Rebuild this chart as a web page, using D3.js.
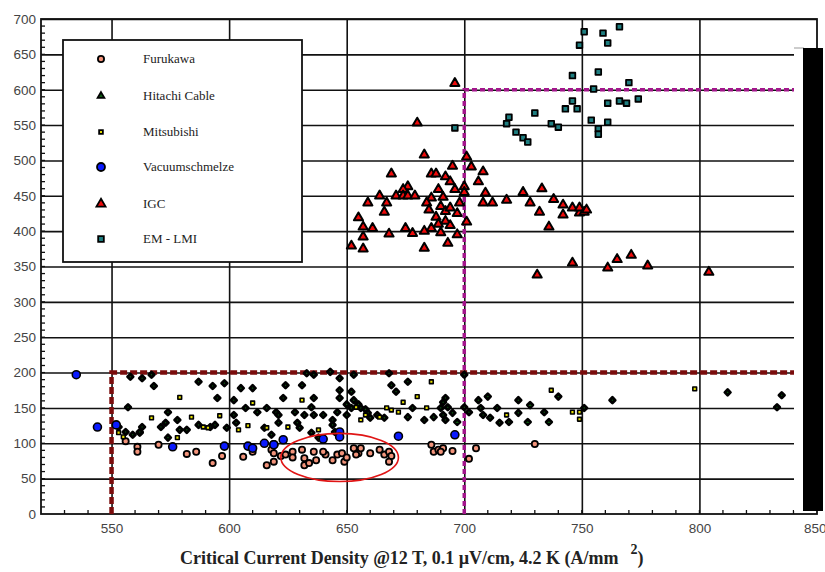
<!DOCTYPE html>
<html lang="en">
<head>
<meta charset="UTF-8">
<title>Critical Current Density</title>
<script src="https://d3js.org/d3.v7.min.js"></script>
<style>
  body { margin: 0; background: #fff; }
  svg { font-family: "Liberation Serif", "DejaVu Serif", serif; }
  .grid line { stroke: #111; stroke-width: 1.6; }
  .grid path { display: none; }
  .lbl text { fill: #444; font-size: 13.5px; }
</style>
</head>
<body>
<svg id="chart" width="825" height="572"></svg>
<script>
// tick values
const xTicks = [550, 600, 650, 700, 750, 800, 850];
const yTicks = [0, 50, 100, 150, 200, 250, 300, 350, 400, 450, 500, 550, 600, 650, 700];

// series: [Jc, value]
const furukawa = [
  [556,103],[561,95],[561,88],[570,98],[582,85],[586,88],[593,72],[597,82],[606,81],[610,88],
  [616,69],[619,74],[622,82],[618,91],[619,86],[624,84],[627,88],[631,91],[632,79],[632,69],
  [636,88],[637,76],[634,72],[641,84],[644,76],[646,84],[648,86],[649,74],[653,93],[655,86],
  [656,93],[654,84],[664,91],[666,84],[668,88],[669,82],[668,74],[686,98],[687,88],[689,91],
  [691,93],[690,88],[695,89],[702,78],[705,93],[730,99],[640,88],[650,80],[660,86],[627,80]
];
const hitachi = [
  [558,194],[563,192],[567,197],[568,181],[587,187],[593,181],[598,185],[595,164],[602,161],
  [605,178],[610,178],[607,150],[557,151],[574,144],[578,133],[573,129],[571,123],[563,123],
  [562,115],[579,119],[582,119],[587,126],[592,123],[594,126],[602,140],[603,129],[599,122],
  [612,144],[616,150],[620,144],[615,122],[574,108],[553,123],[556,116],[559,112],[562,116],
  [636,197],[643,201],[647,192],[624,182],[631,182],[623,164],[636,164],[635,151],[647,175],
  [647,164],[652,173],[653,161],[668,199],[676,187],[669,182],[671,173],[628,144],[632,140],
  [636,140],[640,140],[644,133],[646,144],[650,140],[652,150],[656,150],[659,143],[660,136],
  [663,140],[666,136],[621,140],[621,129],[618,112],[629,129],[630,122],[635,115],[638,108],
  [644,126],[645,116],[683,133],[687,137],[690,150],[691,158],[678,150],[676,137],[692,164],
  [693,151],[691,140],[692,133],[695,143],[697,130],[700,151],[702,144],[706,161],[707,150],
  [710,166],[708,140],[711,136],[714,150],[715,129],[719,130],[723,161],[723,143],[728,154],
  [727,130],[734,144],[736,130],[740,166],[751,150],[763,161],[700,197],[812,172],[835,168],
  [833,151],[633,199],[653,197],[655,155],[650,155],[658,148]
];
const mitsubishi = [
  [579,165],[596,139],[610,157],[578,108],[584,137],[589,123],[591,122],[604,119],[608,125],
  [567,136],[553,115],[555,109],[616,122],[631,161],[625,123],[638,119],[667,150],[669,147],
  [680,166],[684,150],[686,187],[664,137],[672,144],[674,158],[656,133],[658,140],[654,151],
  [737,175],[746,144],[749,144],[749,134],[718,140],[798,177]
];
const vacuum = [
  [535,197],[544,123],[552,126],[576,95],[598,96],[608,96],[610,93],[615,100],[619,98],
  [619,98],[623,105],[640,106],[647,116],[647,109],[672,110],[696,112]
];
const igc = [
  [683,508],[701,505],[695,492],[703,491],[708,484],[669,481],[686,481],[688,481],[692,477],
  [706,470],[694,470],[700,463],[676,463],[696,459],[689,459],[674,459],[709,454],[725,455],
  [733,460],[664,450],[671,450],[674,450],[676,450],[679,450],[686,447],[691,448],[659,440],
  [667,440],[708,440],[712,440],[718,444],[728,440],[738,445],[742,437],[732,427],[742,423],
  [746,433],[749,426],[749,433],[751,427],[752,430],[684,440],[685,430],[688,420],[690,435],
  [692,428],[692,414],[689,410],[694,408],[686,404],[683,400],[690,398],[694,433],[697,425],
  [698,440],[700,455],[666,427],[655,419],[657,406],[661,404],[657,392],[668,396],[675,404],
  [678,397],[652,379],[657,375],[683,376],[693,383],[697,395],[701,413],[736,406],[731,338],
  [746,355],[765,360],[771,366],[761,348],[778,351],[804,342],[696,609],[680,553]
];
const emlmi = [
  [751,682],[759,680],[766,689],[749,663],[761,666],[746,620],[757,625],[770,610],[755,601],
  [746,584],[743,573],[748,573],[761,581],[766,584],[769,581],[774,587],[730,567],[719,561],
  [718,552],[737,552],[740,547],[754,557],[761,554],[757,545],[757,537],[722,540],[725,532],
  [727,526],[696,546]
];

const series = [
  { name: "Furukawa",       data: furukawa,   shape: d3.symbolCircle,   legShape: d3.symbolCircle,   size: 30, fill: "#f2937a", sw: 1.8 },
  { name: "Hitachi Cable",  data: hitachi,    shape: d3.symbolDiamond2, legShape: d3.symbolTriangle, size: 20, fill: "#0b5a10", sw: 2.8 },
  { name: "Mitsubishi",     data: mitsubishi, shape: d3.symbolSquare,   legShape: d3.symbolSquare,   size: 14, fill: "#e6e000", sw: 1.6 },
  { name: "Vacuumschmelze", data: vacuum,     shape: d3.symbolCircle,   legShape: d3.symbolCircle,   size: 50, fill: "#0a1aff", sw: 1.6 },
  { name: "IGC",            data: igc,        shape: d3.symbolTriangle, legShape: d3.symbolTriangle, size: 36, fill: "#ee0a0a", sw: 2 },
  { name: "EM - LMI",       data: emlmi,      shape: d3.symbolSquare,   legShape: d3.symbolSquare,   size: 32, fill: "#1e7e80", sw: 1.8 }
];

const svg = d3.select("#chart");
const x = d3.scaleLinear().domain([520, 850]).range([41, 817]);
const y = d3.scaleLinear().domain([0, 700]).range([514, 19]);
const pLeft = x.range()[0], pRight = x.range()[1];
const pTop = y.range()[1], pBottom = y.range()[0];

// grid lines
svg.append("g").attr("class", "grid")
  .attr("transform", `translate(0,${pBottom})`)
  .call(d3.axisBottom(x).tickValues(xTicks.slice(0, -1)).tickSize(-(pBottom - pTop)).tickFormat(""));
svg.append("g").attr("class", "grid")
  .attr("transform", `translate(${pLeft},0)`)
  .call(d3.axisLeft(y).tickValues(yTicks.slice(1)).tickSize(-(pRight - pLeft)).tickFormat(""));

// minor ticks
const minorX = d3.range(530, 850, 10);
const minorY = d3.range(10, 700, 10);
svg.append("g").selectAll("line").data(minorX).join("line")
  .attr("x1", d => x(d)).attr("x2", d => x(d))
  .attr("y1", pBottom).attr("y2", pBottom - 4)
  .attr("stroke", "#111").attr("stroke-width", 1.3);
svg.append("g").selectAll("line").data(minorY).join("line")
  .attr("x1", pLeft).attr("x2", pLeft + 4)
  .attr("y1", d => y(d)).attr("y2", d => y(d))
  .attr("stroke", "#111").attr("stroke-width", 1.3);

// frame
svg.append("rect")
  .attr("x", pLeft).attr("y", pTop)
  .attr("width", pRight - pLeft).attr("height", pBottom - pTop)
  .attr("fill", "none").attr("stroke", "#111").attr("stroke-width", 1.8);

// tick labels
svg.append("g").attr("class", "lbl")
  .attr("transform", `translate(${pLeft},0)`)
  .call(d3.axisLeft(y).tickValues(yTicks).tickSize(0).tickPadding(5))
  .call(g => g.select(".domain").remove());
svg.append("g").attr("class", "lbl")
  .attr("transform", `translate(0,${pBottom})`)
  .call(d3.axisBottom(x).tickValues(xTicks).tickSize(0).tickPadding(9))
  .call(g => g.select(".domain").remove())
  .call(g => g.selectAll(".tick text").filter(d => d === 850)
    .attr("text-anchor", "end").attr("dx", 9));

// threshold lines
svg.append("path")
  .attr("d", `M${x(550)},${y(0)}V${y(200)}H${x(850)}`)
  .attr("fill", "none").attr("stroke", "#7a0c0c")
  .attr("stroke-width", 4.5).attr("stroke-dasharray", "7,3");
svg.append("path")
  .attr("d", `M${x(700)},${y(0)}V${y(600)}H${x(850)}`)
  .attr("fill", "none").attr("stroke", "#a3168c")
  .attr("stroke-width", 3.5).attr("stroke-dasharray", "5,3");

// points
series.forEach(s => {
  svg.append("g").selectAll("path").data(s.data).join("path")
    .attr("transform", d => `translate(${x(d[0])},${y(d[1])})`)
    .attr("d", d3.symbol().type(s.shape).size(s.size))
    .attr("fill", s.fill).attr("stroke", "#000").attr("stroke-width", s.sw)
    .attr("stroke-linejoin", "round");
});

// highlight ellipse
svg.append("ellipse")
  .attr("cx", x(647)).attr("cy", y(80))
  .attr("rx", x(672) - x(647)).attr("ry", y(46) - y(80))
  .attr("fill", "none").attr("stroke", "#e01515").attr("stroke-width", 1.6);

// legend
const lg = svg.append("g");
lg.append("rect").attr("x", 63).attr("y", 40).attr("width", 239).attr("height", 222)
  .attr("fill", "#fff").attr("stroke", "#111").attr("stroke-width", 1.8);
const legY = [59, 96, 132, 167, 204, 239];
series.forEach((s, i) => {
  lg.append("path")
    .attr("transform", `translate(101,${legY[i]})`)
    .attr("d", d3.symbol().type(s.legShape).size(s.size))
    .attr("fill", s.fill).attr("stroke", "#000").attr("stroke-width", 1.8);
  lg.append("text").attr("x", 143).attr("y", legY[i] + 4)
    .attr("font-size", 13).attr("fill", "#222").text(s.name);
});

// axis title
const t = svg.append("text").attr("x", 180).attr("y", 564)
  .attr("font-size", 18).attr("font-weight", "bold").attr("fill", "#222");
t.append("tspan").text("Critical Current Density @12 T, 0.1 \u00b5V/cm, 4.2 K (A/mm");
t.append("tspan").attr("dx", 12).attr("dy", -10).attr("font-size", 14).text("2");
t.append("tspan").attr("dy", 10).text(")");

// overlay panel at right edge
svg.append("rect").attr("x", 794).attr("y", 48).attr("width", 10).attr("height", 463)
  .attr("fill", "#fff");
svg.append("line").attr("x1", 794).attr("x2", 804).attr("y1", 48).attr("y2", 48)
  .attr("stroke", "#999").attr("stroke-width", 1);
svg.append("rect").attr("x", 803).attr("y", 48).attr("width", 20).attr("height", 463)
  .attr("fill", "#000");
</script>
</body>
</html>
